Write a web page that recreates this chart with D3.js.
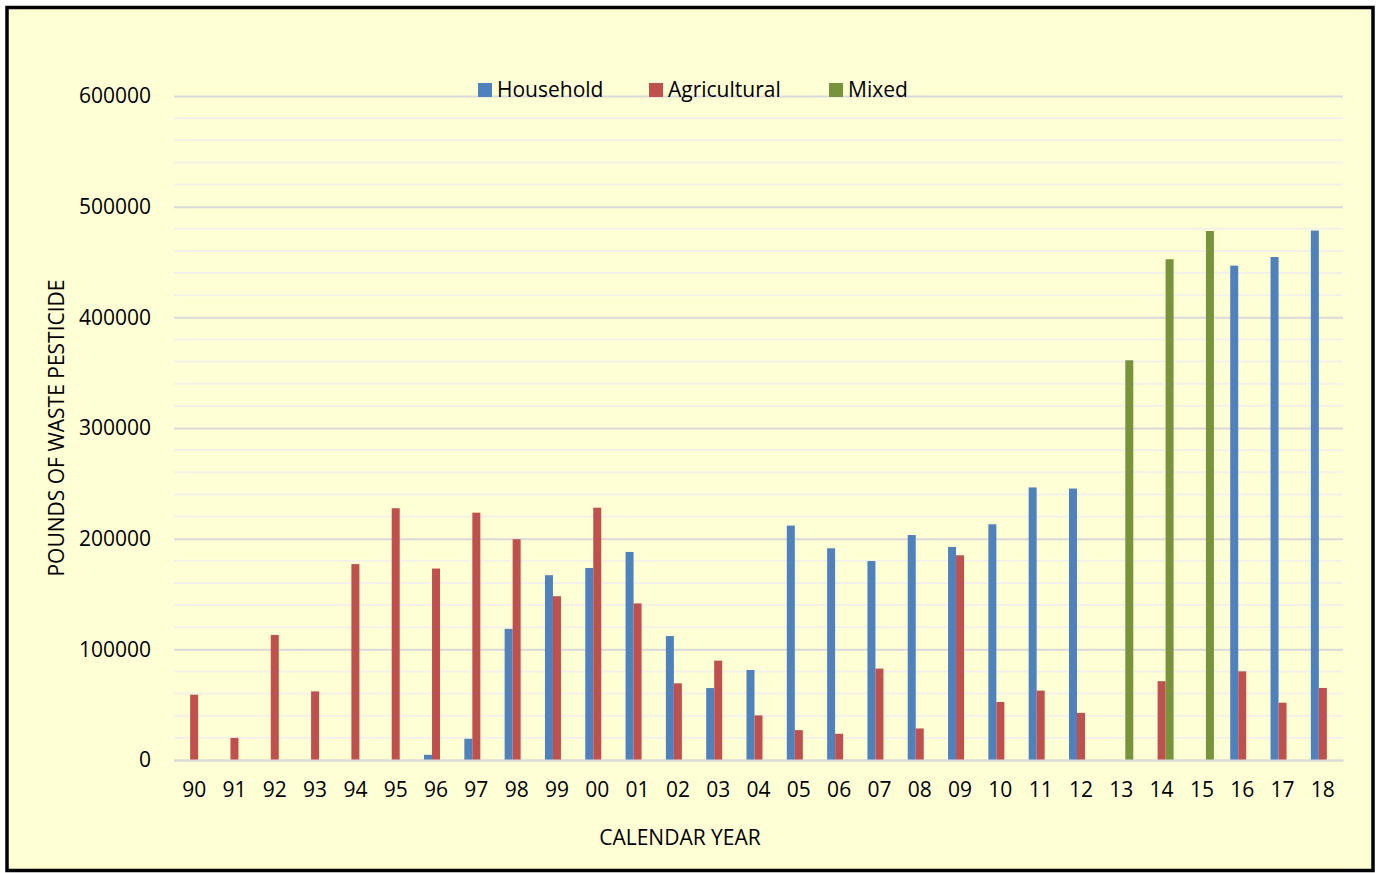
<!DOCTYPE html>
<html>
<head>
<meta charset="utf-8">
<script src="https://cdn.jsdelivr.net/npm/d3@7/dist/d3.min.js"></script>
<style>
  html, body { margin: 0; padding: 0; background: #ffffff; }
  svg { display: block; font-family: "Open Sans", "Noto Sans", sans-serif; }
</style>
</head>
<body>
<svg id="chart" width="1379" height="873"></svg>
<script>
const years = ["90","91","92","93","94","95","96","97","98","99","00","01","02","03","04","05","06","07","08","09","10","11","12","13","14","15","16","17","18"];
const household    = [0,0,0,0,0,0,4700,19200,118500,167000,173500,188000,112000,65000,81300,211800,191300,179800,203300,192500,213000,246300,245300,0,0,0,446700,454500,478400];
const agricultural = [59000,20000,113000,62000,177000,227500,173000,223500,199500,148000,228000,141500,69300,89800,40300,27000,23700,82600,28500,185000,52400,62700,42600,0,71200,0,80100,51800,65100];
const mixed        = [0,0,0,0,0,0,0,0,0,0,0,0,0,0,0,0,0,0,0,0,0,0,0,361200,452500,478000,0,0,0];
const seriesNames  = ["Household","Agricultural","Mixed"];
const seriesColors = ["#4F81BD","#C0504D","#77933C"];
const yTicks = [0,100000,200000,300000,400000,500000,600000];

const series = [household, agricultural, mixed];
const svg = d3.select("#chart");

// frame
svg.append("rect").attr("x",7).attr("y",7.5).attr("width",1366).attr("height",863)
  .attr("fill","#FFFFD6").attr("stroke","#000").attr("stroke-width",3.5);

const x0 = d3.scaleBand().domain(years).range([174,1343]).paddingInner(0).paddingOuter(0);
const x1 = d3.scaleBand().domain(seriesNames).range([-12,12]);
const y = d3.scaleLinear().domain([0,600000]).range([760,96]);

// minor gridlines
const minor = d3.range(20000, 600001, 20000).filter(v => v % 100000 !== 0);
svg.append("g").selectAll("line").data(minor).join("line")
  .attr("x1",174).attr("x2",1343).attr("y1",d=>y(d)).attr("y2",d=>y(d))
  .attr("stroke","#F1F1EA").attr("stroke-width",2);

// major gridlines via axis
const yAxis = d3.axisLeft(y).tickValues(yTicks).tickSize(-(1343-174)).tickPadding(23).tickFormat(d3.format("d"));
const gy = svg.append("g").attr("transform","translate(174,0)").call(yAxis);
gy.select(".domain").remove();
gy.selectAll(".tick line").attr("stroke","#D9D9D9").attr("stroke-width",2);
gy.selectAll(".tick text").attr("font-size",21).attr("fill","#000").attr("font-family","'Open Sans', sans-serif");

// bars
const g = svg.append("g");
seriesNames.forEach((name, si) => {
  g.append("g").selectAll("rect")
    .data(years.map((yr,i)=>({yr, v: series[si][i]})).filter(d=>d.v>0))
    .join("rect")
    .attr("x", d => x0(d.yr) + x0.bandwidth()/2 + x1(name))
    .attr("width", x1.bandwidth())
    .attr("y", d => y(d.v))
    .attr("height", d => y(0) - y(d.v))
    .attr("fill", seriesColors[si]);
});

// x axis
const xAxis = d3.axisBottom(x0).tickSize(0).tickPadding(22);
const gx = svg.append("g").attr("transform","translate(0,760)").call(xAxis);
gx.select(".domain").attr("stroke","#D9D9D9").attr("stroke-width",2);
gx.selectAll(".tick text").attr("font-size",21).attr("fill","#000").attr("font-family","'Open Sans', sans-serif");

// axis titles
svg.append("text").attr("x",680).attr("y",845).attr("text-anchor","middle")
  .attr("font-size",21).attr("fill","#000").text("CALENDAR YEAR");
svg.append("text").attr("transform","translate(64,428) rotate(-90)").attr("text-anchor","middle")
  .attr("font-size",21).attr("fill","#000").text("POUNDS OF WASTE PESTICIDE");

// legend
const legendX = [478, 649, 829];
const lg = svg.append("g");
seriesNames.forEach((name, i) => {
  lg.append("rect").attr("x",legendX[i]).attr("y",83).attr("width",14).attr("height",14).attr("fill",seriesColors[i]);
  lg.append("text").attr("x",legendX[i]+19).attr("y",97).attr("font-size",21).attr("fill","#000").text(name);
});
</script>
</body>
</html>
